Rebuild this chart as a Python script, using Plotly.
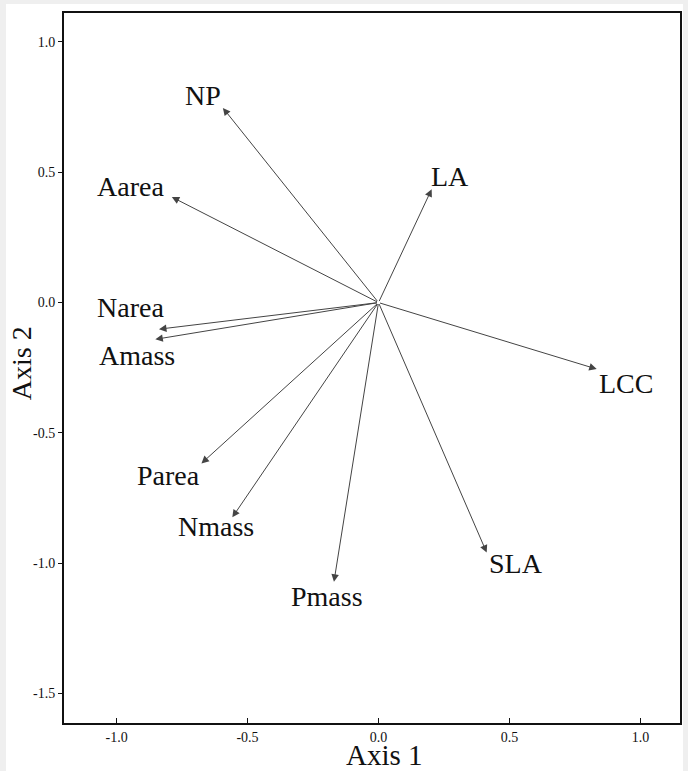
import plotly.graph_objects as go

# Trait loadings (arrow tips) on axis 1 / axis 2
traits = ["NP", "Aarea", "Narea", "Amass", "Parea", "Nmass", "Pmass", "LA", "LCC", "SLA"]
axis1 = [-0.594, -0.789, -0.838, -0.852, -0.676, -0.558, -0.170, 0.203, 0.833, 0.413]
axis2 = [0.747, 0.405, -0.102, -0.141, -0.617, -0.824, -1.071, 0.435, -0.255, -0.959]

xtick_vals = [-1.0, -0.5, 0.0, 0.5, 1.0]
xtick_text = ["-1.0", "-0.5", "0.0", "0.5", "1.0"]
ytick_vals = [-1.5, -1.0, -0.5, 0.0, 0.5, 1.0]
ytick_text = ["-1.5", "-1.0", "-0.5", "0.0", "0.5", "1.0"]

# label offsets in pixels (style), relative to arrow tip
label_dx = [-20, -41, -28, -18, -33, -16, -7, 18, 29, 29]
label_dy = [12, 11, 22, -16, -12, -9, -15, 13, -14, -11]

FONT = "Liberation Serif"
INK = "#111111"

fig = go.Figure()
fig.add_trace(go.Scatter(x=axis1, y=axis2, mode="markers",
                         marker=dict(size=1, opacity=0), hoverinfo="skip", showlegend=False))

annotations = []
for name, x, y in zip(traits, axis1, axis2):
    annotations.append(dict(
        x=x, y=y, ax=0, ay=0, xref="x", yref="y", axref="x", ayref="y",
        showarrow=True, arrowhead=2, arrowsize=1.5, arrowwidth=1,
        arrowcolor="#444444", text="", standoff=0, startstandoff=0))
for name, x, y, dx, dy in zip(traits, axis1, axis2, label_dx, label_dy):
    annotations.append(dict(
        x=x, y=y, xref="x", yref="y", text=name, showarrow=False,
        xshift=dx, yshift=dy, xanchor="center", yanchor="middle",
        font=dict(family=FONT, size=28, color=INK)))
# axis titles
annotations.append(dict(
    x=0.5195, y=-0.045, xref="paper", yref="paper", text="Axis 1", showarrow=False,
    xanchor="center", yanchor="middle", font=dict(family=FONT, size=29, color=INK)))
annotations.append(dict(
    x=-0.0695, y=0.507, xref="paper", yref="paper", text="Axis 2", showarrow=False,
    textangle=-90, xanchor="center", yanchor="middle",
    font=dict(family=FONT, size=28, color=INK)))

fig.update_layout(
    width=688, height=771,
    margin=dict(l=64, r=8, t=13, b=48),
    paper_bgcolor="#efefef",
    plot_bgcolor="white",
    showlegend=False,
    annotations=annotations,
    shapes=[dict(type="rect", xref="paper", yref="paper",
                 x0=-0.0942, x1=1.0049, y0=-0.1, y1=1.0127,
                 fillcolor="white", line=dict(width=0), layer="below")],
    xaxis=dict(
        range=[-1.2006, 1.151], tickvals=xtick_vals, ticktext=xtick_text,
        showgrid=False, zeroline=False, showline=True, mirror=True,
        linecolor=INK, linewidth=2, ticks="inside", ticklen=5,
        tickcolor=INK, tickfont=dict(family=FONT, size=14, color=INK),
        automargin=False,
    ),
    yaxis=dict(
        range=[-1.613, 1.111], tickvals=ytick_vals, ticktext=ytick_text,
        showgrid=False, zeroline=False, showline=True, mirror=True,
        linecolor=INK, linewidth=2, ticks="outside", ticklen=4,
        tickcolor=INK, tickfont=dict(family=FONT, size=14, color=INK),
        automargin=False,
    ),
)

fig.write_html("out.html", config={"displayModeBar": False},
               post_script="document.body.style.margin='0px';document.body.style.background='#efefef';")
